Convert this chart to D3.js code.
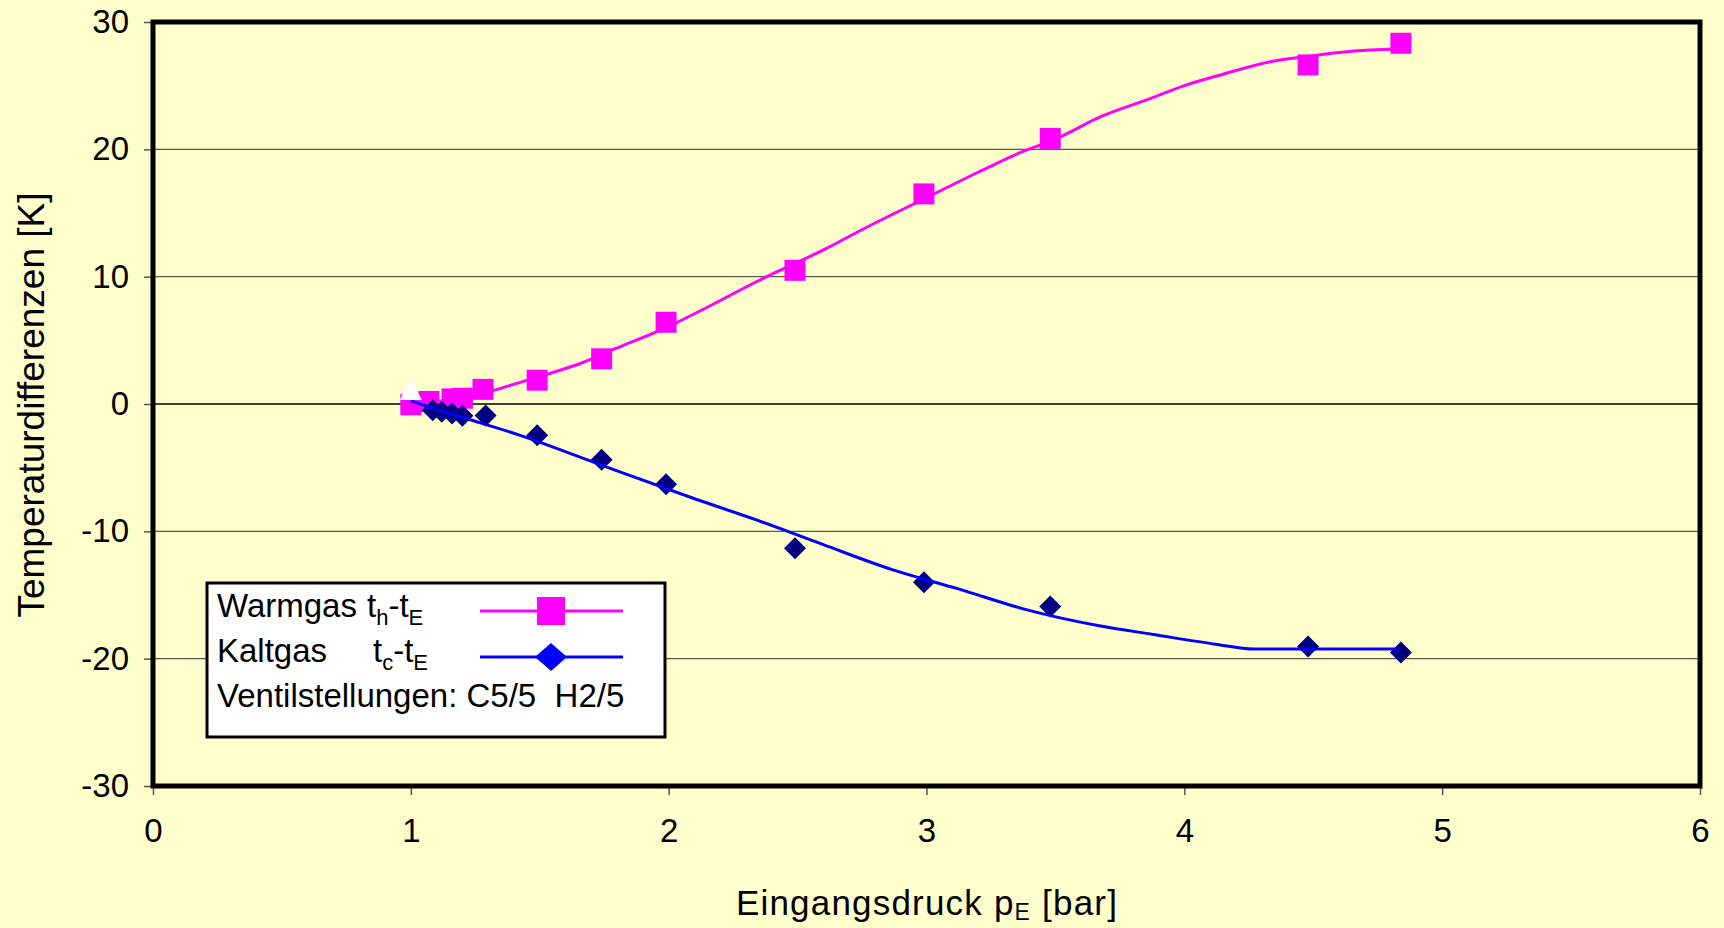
<!DOCTYPE html>
<html>
<head>
<meta charset="utf-8">
<script src="https://cdn.jsdelivr.net/npm/d3@7"></script>
<style>
  html, body { margin: 0; padding: 0; background: #FFFFCC; }
  svg { display: block; font-family: "Liberation Sans", Arial, sans-serif; }
</style>
</head>
<body>
<svg id="chart" width="1724" height="928"></svg>
<script>
// Measured points: warm gas (squares) and cold gas (diamonds)
const warmPressure = [1.0, 1.07, 1.16, 1.2, 1.28, 1.49, 1.74, 1.99, 2.49, 2.99, 3.48, 4.48, 4.84];
const warmDelta    = [-0.06, 0.2, 0.4, 0.45, 1.15, 1.87, 3.55, 6.42, 10.5, 16.5, 20.86, 26.63, 28.33];

const coldPressure = [1.085, 1.12, 1.16, 1.2, 1.29, 1.49, 1.74, 1.99, 2.49, 2.99, 3.48, 4.48, 4.84];
const coldDelta    = [-0.5, -0.6, -0.75, -0.93, -0.9, -2.46, -4.38, -6.3, -11.33, -14.0, -15.9, -19.04, -19.51];

// Fitted trend curves
const warmFitPressure = [1.0, 1.1, 1.2, 1.3, 1.4, 1.53, 1.66, 1.8, 1.99, 2.15, 2.34, 2.61, 2.77, 2.99, 3.2, 3.37, 3.5, 3.68, 3.87, 4.0, 4.15, 4.34, 4.48, 4.6, 4.72, 4.84];
const warmFitDelta    = [-0.05, 0.2, 0.5, 0.95, 1.55, 2.35, 3.2, 4.4, 6.0, 7.6, 9.6, 12.2, 13.9, 16.1, 18.2, 19.8, 20.8, 22.6, 24.0, 25.0, 25.9, 26.9, 27.3, 27.6, 27.8, 27.9];

const coldFitPressure = [1.0, 1.12, 1.27, 1.43, 1.56, 1.8, 2.09, 2.34, 2.6, 2.87, 3.12, 3.39, 3.67, 3.88, 4.12, 4.27, 4.5, 4.83];
const coldFitDelta    = [0.25, -0.56, -1.48, -2.5, -3.44, -5.25, -7.36, -9.1, -11.05, -13.03, -14.5, -16.17, -17.42, -18.1, -18.86, -19.25, -19.25, -19.25];

// Inlet reference point
const refPressure = [1.0];
const refDelta = [1.1];

// Axis ticks
const xTicks = [0, 1, 2, 3, 4, 5, 6];
const xTickLabels = ["0", "1", "2", "3", "4", "5", "6"];
const yTicks = [-30, -20, -10, 0, 10, 20, 30];
const yTickLabels = ["-30", "-20", "-10", "0", "10", "20", "30"];

const svg = d3.select("#chart");
const W = 1724, H = 928;
const plot = { left: 153, right: 1700, top: 22, bottom: 786 };

const x = d3.scaleLinear().domain([0, 6]).range([plot.left, plot.right]);
const y = d3.scaleLinear().domain([-30, 30]).range([plot.bottom, plot.top]);

svg.append("rect").attr("width", W).attr("height", H).attr("fill", "#FFFFCC");

// Gridlines
svg.append("g").selectAll("line")
  .data(yTicks.filter(t => t > -30 && t < 30))
  .join("line")
  .attr("x1", plot.left).attr("x2", plot.right)
  .attr("y1", d => y(d)).attr("y2", d => y(d))
  .attr("stroke", d => d === 0 ? "#000" : "#5a5a48")
  .attr("stroke-width", d => d === 0 ? 1.6 : 1.3);

// Axes
const xAxis = d3.axisBottom(x).tickValues(xTicks)
  .tickFormat((d, i) => xTickLabels[i]).tickSize(9).tickPadding(24);
const yAxis = d3.axisLeft(y).tickValues(yTicks)
  .tickFormat((d, i) => yTickLabels[i]).tickSize(9).tickPadding(15);

const gx = svg.append("g").attr("transform", `translate(0,${plot.bottom})`).call(xAxis);
const gy = svg.append("g").attr("transform", `translate(${plot.left},0)`).call(yAxis);
[gx, gy].forEach(g => {
  g.select(".domain").remove();
  g.selectAll(".tick line").attr("stroke", "#555").attr("stroke-width", 1.5);
  g.selectAll(".tick text").attr("fill", "#000").attr("font-size", 33)
    .attr("font-family", "'Liberation Sans', Arial, sans-serif");
});
gx.selectAll(".tick text").attr("dy", "0.71em");

// Trend curves and markers
const line = d3.line().x(d => x(d[0])).y(d => y(d[1])).curve(d3.curveMonotoneX);

const warmFit = warmFitPressure.map((p, i) => [p, warmFitDelta[i]]);
const coldFit = coldFitPressure.map((p, i) => [p, coldFitDelta[i]]);
const warmPts = warmPressure.map((p, i) => [p, warmDelta[i]]);
const coldPts = coldPressure.map((p, i) => [p, coldDelta[i]]);

svg.append("path").datum(warmFit).attr("d", line)
  .attr("fill", "none").attr("stroke", "#FF00FF").attr("stroke-width", 3);

const sq = 21;
svg.append("g").selectAll("rect").data(warmPts).join("rect")
  .attr("x", d => x(d[0]) - sq / 2).attr("y", d => y(d[1]) - sq / 2)
  .attr("width", sq).attr("height", sq).attr("fill", "#FF00FF");

const diamond = (cx, cy, rx, ry) => `M${cx},${cy - ry}L${cx + rx},${cy}L${cx},${cy + ry}L${cx - rx},${cy}Z`;
svg.append("g").selectAll("path").data(coldPts).join("path")
  .attr("d", d => diamond(x(d[0]), y(d[1]), 11, 11))
  .attr("fill", "#000080");

svg.append("path").datum(coldFit).attr("d", line)
  .attr("fill", "none").attr("stroke", "#0000FF").attr("stroke-width", 3);

svg.append("g").selectAll("path").data(refPressure.map((p, i) => [p, refDelta[i]])).join("path")
  .attr("d", d => {
    const cx = x(d[0]), cy = y(d[1]);
    return `M${cx},${cy - 12}L${cx + 11},${cy + 10}L${cx - 11},${cy + 10}Z`;
  })
  .attr("fill", "#FFFFFF");

// Plot frame
svg.append("rect")
  .attr("x", plot.left).attr("y", plot.top)
  .attr("width", plot.right - plot.left).attr("height", plot.bottom - plot.top)
  .attr("fill", "none").attr("stroke", "#000").attr("stroke-width", 5);

// Axis titles
svg.append("text")
  .attr("x", 927).attr("y", 915)
  .attr("text-anchor", "middle").attr("font-size", 35).attr("letter-spacing", 1.2)
  .call(t => {
    t.append("tspan").text("Eingangsdruck p");
    t.append("tspan").attr("font-size", 23).attr("dy", 5).text("E");
    t.append("tspan").attr("dy", -5).text(" [bar]");
  });

svg.append("text")
  .attr("transform", "translate(44,405) rotate(-90)")
  .attr("text-anchor", "middle").attr("font-size", 37)
  .text("Temperaturdifferenzen [K]");

// Legend
const lg = svg.append("g");
lg.append("rect").attr("x", 207).attr("y", 583).attr("width", 458).attr("height", 154)
  .attr("fill", "#FFFFFF").attr("stroke", "#000").attr("stroke-width", 3);

const formula = (t, a, b) => {
  t.append("tspan").text("t");
  t.append("tspan").attr("font-size", 22).attr("dy", 8).text(a);
  t.append("tspan").attr("dy", -8).text("-t");
  t.append("tspan").attr("font-size", 22).attr("dy", 8).text(b);
};
lg.append("text").attr("x", 217).attr("y", 617).attr("font-size", 33).text("Warmgas");
lg.append("text").attr("x", 367).attr("y", 617).attr("font-size", 33).call(formula, "h", "E");
lg.append("text").attr("x", 217).attr("y", 662).attr("font-size", 33).text("Kaltgas");
lg.append("text").attr("x", 373).attr("y", 662).attr("font-size", 33).call(formula, "c", "E");
lg.append("text").attr("x", 217).attr("y", 707).attr("font-size", 33)
  .attr("xml:space", "preserve").style("white-space", "pre")
  .text("Ventilstellungen: C5/5  H2/5");

lg.append("line").attr("x1", 480).attr("x2", 623).attr("y1", 611).attr("y2", 611)
  .attr("stroke", "#FF00FF").attr("stroke-width", 3);
lg.append("rect").attr("x", 551 - 14).attr("y", 611 - 14).attr("width", 28).attr("height", 28)
  .attr("fill", "#FF00FF");
lg.append("line").attr("x1", 480).attr("x2", 623).attr("y1", 657).attr("y2", 657)
  .attr("stroke", "#0000FF").attr("stroke-width", 3);
lg.append("path").attr("d", diamond(551, 657, 16, 14)).attr("fill", "#0000FF");
</script>
</body>
</html>
